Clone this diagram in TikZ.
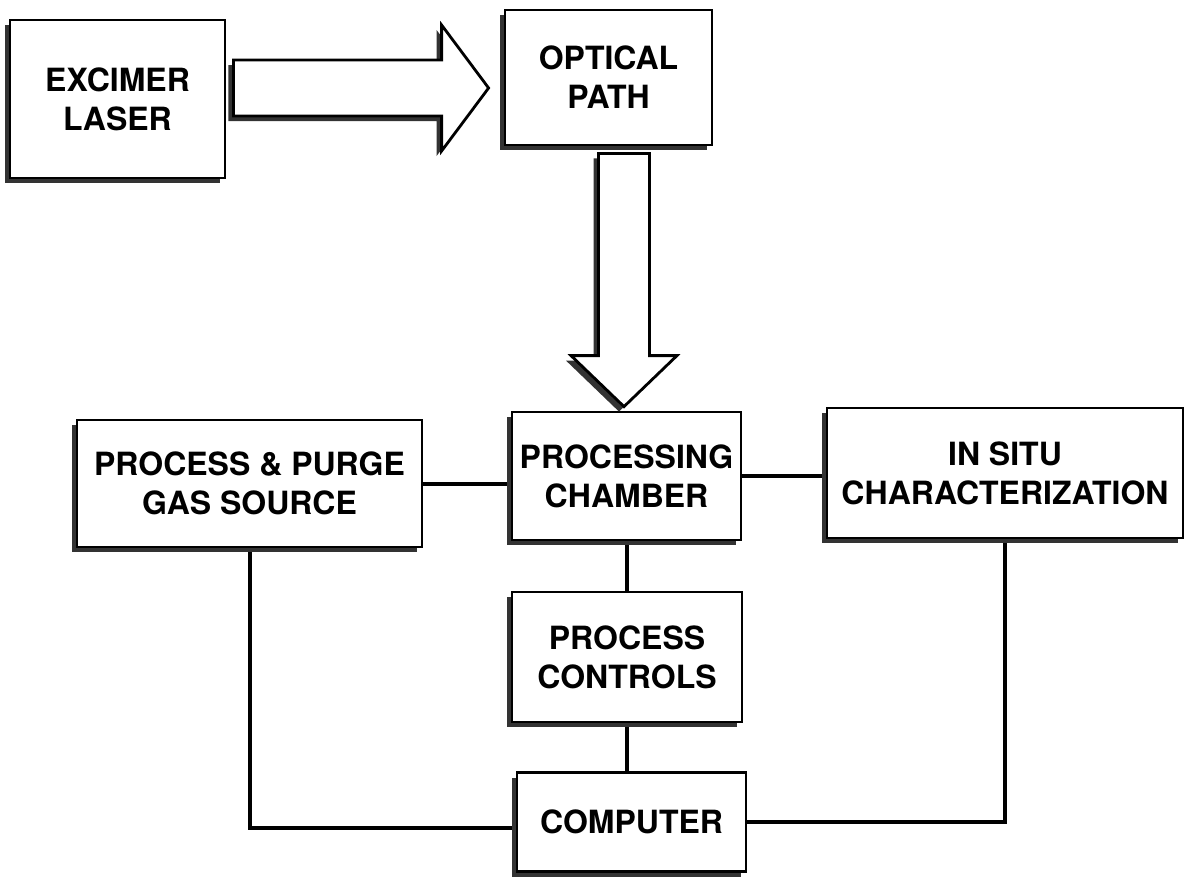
\documentclass[tikz,border=0pt]{standalone}
\usepackage{fontspec}
\setmainfont{TeX Gyre Heros}
\usetikzlibrary{shadows,calc,backgrounds}
\begin{document}
\begin{tikzpicture}[x=1pt,y=-1pt,
  blk/.style={draw, line width=2.8pt, fill=white, align=center,
    font=\fontsize{32}{39}\selectfont\bfseries, inner sep=0pt,
    drop shadow={shadow xshift=-5pt, shadow yshift=-5pt, fill=black!80, opacity=1}},
  wire/.style={line width=4pt},
  shadowfill/.style={fill=black!80},
  arrowbody/.style={draw, fill=white, line width=2.8pt, line join=miter}]
\path[use as bounding box] (0,0) rectangle (1185,878);

\node[blk, minimum width=215pt, minimum height=158pt] (laser) at (117.5,99) {EXCIMER\\LASER};
\node[blk, minimum width=207pt, minimum height=135pt] (optical) at (608.5,77.5) {OPTICAL\\PATH};
\node[blk, minimum width=229pt, minimum height=128pt] (chamber) at (626.5,476) {PROCESSING\\CHAMBER};
\node[blk, minimum width=345pt, minimum height=127pt] (gas) at (249.5,483.5) {PROCESS \& PURGE\\GAS SOURCE};
\node[blk, minimum width=356pt, minimum height=130pt] (insitu) at (1005,473) {IN SITU\\CHARACTERIZATION};
\node[blk, minimum width=230pt, minimum height=130pt] (controls) at (627,657) {PROCESS\\CONTROLS};
\node[blk, minimum width=229pt, minimum height=99pt] (computer) at (631.5,822) {COMPUTER};

\begin{scope}[on background layer]
\draw[wire] (gas.east) -- (gas.east -| chamber.west);
\draw[wire] (chamber.east) -- (chamber.east -| insitu.west);
\draw[wire] (chamber.south) -- (chamber.south |- controls.north);
\draw[wire] (controls.south) -- (controls.south |- computer.north);
\draw[wire] (gas.south) |- ($(computer.west)+(0,6)$);
\draw[wire] (computer.east) -| (insitu.south);
\end{scope}

% horizontal block arrow: laser -> optical
\coordinate (ha) at ($(laser.east)+(7,-11)$);
\coordinate (hb) at ($(optical.west)+(-15,10.5)$);
\foreach \dx/\dy/\sty in {-5/5/shadowfill, 0/0/arrowbody}{
  \path[\sty] ($(ha)+(\dx,\dy-28)$) -- ($(hb)+(\dx-47,\dy-28)$) -- ($(hb)+(\dx-47,\dy-63)$)
    -- ($(hb)+(\dx,\dy)$) -- ($(hb)+(\dx-47,\dy+63)$) -- ($(hb)+(\dx-47,\dy+28)$)
    -- ($(ha)+(\dx,\dy+28)$) -- cycle;
}

% vertical block arrow: optical -> chamber
\coordinate (va) at ($(optical.south)+(15.5,7)$);
\coordinate (vb) at ($(va |- chamber.north)+(0,-4)$);
\foreach \dx/\dy/\sty in {-5/5/shadowfill, 0/0/arrowbody}{
  \path[\sty] ($(va)+(\dx-25.5,\dy)$) -- ($(vb)+(\dx-25.5,\dy-51)$) -- ($(vb)+(\dx-53,\dy-51)$)
    -- ($(vb)+(\dx,\dy)$) -- ($(vb)+(\dx+53,\dy-51)$) -- ($(vb)+(\dx+25.5,\dy-51)$)
    -- ($(va)+(\dx+25.5,\dy)$) -- cycle;
}
\end{tikzpicture}
\end{document}
